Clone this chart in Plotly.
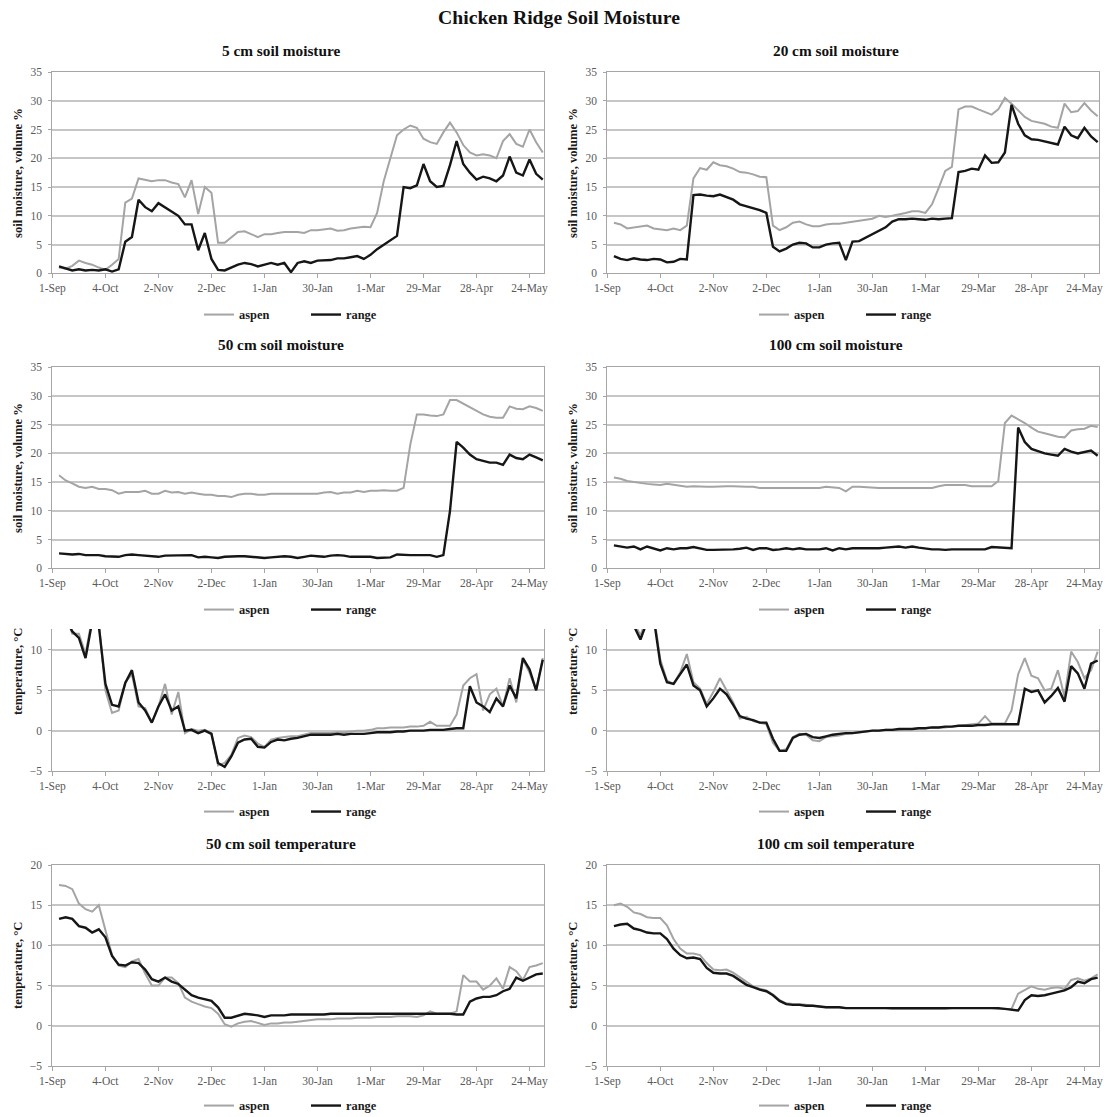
import plotly.graph_objects as go

W, H = 1109, 1117
FONT = "Liberation Serif, Times New Roman, Times, serif"

# ---------------- data ----------------
sample_index = list(range(1, 75))          # category position of each reading
tick_index = [0, 8, 16, 24, 32, 40, 48, 56, 64, 72]
tick_labels = ["1-Sep", "4-Oct", "2-Nov", "2-Dec", "1-Jan", "30-Jan",
               "1-Mar", "29-Mar", "28-Apr", "24-May"]
series_names = ["aspen", "range"]

moist5_aspen = [1.0, 0.8, 1.3, 2.2, 1.8, 1.5, 1.0, 0.6, 1.5, 2.5,
                12.3, 13.0, 16.5, 16.2, 16.0, 16.2, 16.2, 15.8, 15.5, 13.2,
                16.2, 10.3, 15.0, 14.0, 5.3, 5.3, 6.3, 7.2, 7.3, 6.8,
                6.3, 6.8, 6.8, 7.0, 7.2, 7.2, 7.2, 7.0, 7.5, 7.5,
                7.7, 7.8, 7.4, 7.5, 7.8, 8.0, 8.1, 8.0, 10.5, 16.0,
                19.8, 24.0, 25.0, 25.7, 25.3, 23.4, 22.8, 22.5, 24.5, 26.2,
                24.5, 22.3, 21.0, 20.5, 20.7, 20.5, 20.0, 23.0, 24.2, 22.5,
                22.0, 25.0, 22.8, 21.0]
moist5_range = [1.2, 0.8, 0.5, 0.7, 0.5, 0.6, 0.5, 0.7, 0.3, 0.7,
                5.5, 6.3, 12.8, 11.5, 10.8, 12.2, 11.5, 10.8, 10.0, 8.5,
                8.5, 4.0, 7.0, 2.5, 0.6, 0.5, 1.0, 1.5, 1.8, 1.6,
                1.2, 1.5, 1.8, 1.5, 1.8, 0.2, 1.8, 2.1, 1.8, 2.2,
                2.3, 2.3, 2.6, 2.6, 2.8, 3.0, 2.5, 3.2, 4.2, 5.0,
                5.8, 6.5, 15.0, 14.8, 15.3, 19.0, 16.0, 15.0, 15.2, 18.8,
                23.0, 19.0, 17.5, 16.3, 16.8, 16.5, 16.0, 17.0, 20.3, 17.5,
                17.0, 19.8, 17.3, 16.3]

moist20_aspen = [8.8, 8.5, 7.8, 8.0, 8.1, 8.3, 7.8, 7.7, 7.5, 7.8,
                 7.5, 8.3, 16.5, 18.3, 18.0, 19.3, 18.8, 18.6, 18.2, 17.6,
                 17.5, 17.2, 16.8, 16.7, 8.3, 7.5, 8.0, 8.8, 9.0, 8.5,
                 8.2, 8.2, 8.5, 8.6, 8.6, 8.8, 9.0, 9.2, 9.3, 9.5,
                 10.0, 9.8, 10.0, 10.2, 10.5, 10.8, 10.8, 10.5, 12.0, 14.8,
                 17.8, 18.5, 28.5, 29.0, 29.0, 28.5, 28.0, 27.6, 28.5, 30.5,
                 29.5, 28.3, 27.2, 26.5, 26.3, 26.0, 25.5, 25.3, 29.5, 28.0,
                 28.2, 29.6, 28.3, 27.3]
moist20_range = [3.0, 2.5, 2.3, 2.6, 2.4, 2.3, 2.5, 2.4, 1.9, 2.0,
                 2.5, 2.4, 13.6, 13.7, 13.5, 13.4, 13.7, 13.2, 12.8, 12.0,
                 11.7, 11.3, 11.0, 10.5, 4.6, 3.8, 4.3, 5.0, 5.3, 5.2,
                 4.5, 4.5, 5.0, 5.2, 5.3, 2.3, 5.5, 5.6, 6.2, 6.8,
                 7.3, 8.0, 9.0, 9.4, 9.4, 9.5, 9.4, 9.3, 9.5, 9.4,
                 9.5, 9.6, 17.6, 17.8, 18.2, 18.0, 20.5, 19.2, 19.3, 21.0,
                 29.3, 26.0, 24.0, 23.3, 23.2, 22.9, 22.6, 22.4, 25.5, 24.0,
                 23.5, 25.3, 23.8, 22.8]

moist50_aspen = [16.2, 15.3, 14.8, 14.2, 14.0, 14.2, 13.8, 13.8, 13.6, 13.0,
                 13.3, 13.3, 13.3, 13.5, 13.0, 13.0, 13.5, 13.2, 13.3, 13.0,
                 13.2, 13.0, 12.8, 12.8, 12.6, 12.6, 12.4, 12.8, 13.0, 13.0,
                 12.8, 12.8, 13.0, 13.0, 13.0, 13.0, 13.0, 12.9, 13.0, 13.0,
                 13.2, 13.3, 13.0, 13.2, 13.2, 13.5, 13.3, 13.5, 13.5, 13.6,
                 13.5, 13.5, 14.0, 21.5, 26.8, 26.8, 26.6, 26.5, 26.8, 29.3,
                 29.3, 28.7, 28.0, 27.5, 26.8, 26.4, 26.2, 26.2, 28.2, 27.8,
                 27.7, 28.2, 27.9, 27.4]
moist50_range = [2.6, 2.5, 2.4, 2.5, 2.3, 2.3, 2.3, 2.1, 2.0, 2.0,
                 2.3, 2.4, 2.3, 2.2, 2.1, 2.0, 2.2, 2.2, 2.2, 2.3,
                 2.3, 1.9, 2.0, 1.9, 1.8, 2.0, 2.1, 2.1, 2.1, 2.0,
                 1.9, 1.8, 1.9, 2.0, 2.1, 2.0, 1.8, 2.0, 2.2, 2.1,
                 2.0, 2.2, 2.3, 2.2, 2.0, 2.0, 2.0, 2.0, 1.8, 1.8,
                 1.9, 2.4, 2.3, 2.3, 2.3, 2.3, 2.3, 2.0, 2.3, 10.0,
                 22.0, 21.0, 19.8, 19.0, 18.7, 18.4, 18.4, 18.0, 19.8, 19.2,
                 19.0, 19.8, 19.3, 18.8]

moist100_aspen = [15.8, 15.6, 15.2, 15.0, 14.9, 14.7, 14.6, 14.5, 14.7, 14.5,
                  14.3, 14.2, 14.3, 14.2, 14.2, 14.2, 14.3, 14.3, 14.3, 14.2,
                  14.2, 14.2, 14.0, 14.0, 14.0, 14.0, 14.0, 14.0, 14.0, 14.0,
                  14.0, 14.0, 14.2, 14.1, 14.0, 13.4, 14.2, 14.2, 14.1, 14.0,
                  14.0, 14.0, 14.0, 14.0, 14.0, 14.0, 14.0, 14.0, 14.0, 14.3,
                  14.5, 14.5, 14.5, 14.5, 14.3, 14.3, 14.3, 14.3, 15.2, 25.3,
                  26.6, 26.0, 25.3, 24.5, 23.8, 23.5, 23.2, 22.9, 22.8, 24.0,
                  24.2, 24.3, 24.8, 24.6]
moist100_range = [4.0, 3.8, 3.6, 3.8, 3.3, 3.8, 3.5, 3.1, 3.5, 3.3,
                  3.5, 3.5, 3.7, 3.5, 3.2, 3.2, 3.2, 3.2, 3.3, 3.4,
                  3.6, 3.2, 3.5, 3.5, 3.2, 3.3, 3.5, 3.3, 3.5, 3.3,
                  3.3, 3.3, 3.5, 3.1, 3.5, 3.3, 3.5, 3.5, 3.4, 3.5,
                  3.5, 3.6, 3.7, 3.8, 3.6, 3.8, 3.6, 3.4, 3.3, 3.3,
                  3.2, 3.3, 3.3, 3.3, 3.2, 3.3, 3.3, 3.7, 3.6, 3.6,
                  3.5, 24.5, 22.0, 20.8, 20.4, 20.0, 19.8, 19.6, 20.8, 20.3,
                  20.0, 20.2, 20.5, 19.6]

temp5_aspen = [15.5, 14.5, 12.0, 12.0, 9.5, 14.0, 13.5, 5.0, 2.2, 2.5,
               6.0, 7.0, 3.0, 2.8, 1.0, 3.0, 5.8, 2.0, 4.8, -0.3,
               0.2, 0.0, 0.1, -0.3, -4.3, -4.0, -3.0, -0.9, -0.6, -0.8,
               -1.6, -2.0, -1.1, -0.9, -0.8, -0.7, -0.7, -0.5, -0.3, -0.3,
               -0.3, -0.3, -0.2, -0.2, -0.1, 0.0, 0.0, 0.1, 0.3, 0.3,
               0.4, 0.4, 0.4, 0.5, 0.5, 0.6, 1.1, 0.6, 0.6, 0.6,
               2.0, 5.6, 6.5, 7.0, 2.5, 4.5, 5.2, 3.0, 6.5, 3.5,
               8.8, 7.2, 5.0, 9.0]
temp5_range = [15.0, 14.0, 12.3, 11.5, 9.0, 13.5, 13.0, 5.8, 3.2, 3.0,
               5.9, 7.5, 3.5, 2.5, 1.0, 3.0, 4.5, 2.5, 3.0, 0.0,
               0.1, -0.3, 0.0, -0.4, -4.0, -4.5, -3.2, -1.5, -1.1, -1.0,
               -2.0, -2.1, -1.4, -1.1, -1.2, -1.0, -0.9, -0.7, -0.5, -0.5,
               -0.5, -0.5, -0.4, -0.5, -0.4, -0.4, -0.4, -0.3, -0.2, -0.2,
               -0.2, -0.1, -0.1, 0.0, 0.0, 0.0, 0.1, 0.1, 0.1, 0.2,
               0.3, 0.3, 5.5, 3.5, 3.0, 2.3, 4.0, 3.0, 5.6, 4.0,
               9.0, 7.6, 5.0, 8.8]

temp20_aspen = [16.5, 16.0, 15.0, 13.5, 11.8, 14.0, 14.5, 8.8, 6.2, 5.8,
                7.2, 9.5, 6.0, 5.2, 3.3, 4.8, 6.5, 5.0, 3.5, 1.5,
                1.7, 1.2, 1.0, 0.8, -1.5, -2.5, -2.3, -0.8, -0.4, -0.5,
                -1.2, -1.3, -0.8, -0.7, -0.6, -0.4, -0.3, -0.2, -0.1, 0.0,
                0.0, 0.1, 0.1, 0.1, 0.2, 0.2, 0.3, 0.3, 0.4, 0.4,
                0.4, 0.5, 0.6, 0.7, 0.8, 0.9, 1.8, 0.9, 0.9, 0.9,
                2.5, 7.0, 9.0, 6.8, 6.5, 5.0, 5.2, 7.5, 4.2, 9.8,
                8.5, 6.5, 7.5, 9.8]
temp20_range = [16.0, 15.5, 14.5, 13.0, 11.3, 13.5, 14.0, 8.3, 6.0, 5.8,
                7.0, 8.2, 5.6, 5.0, 3.0, 4.0, 5.2, 4.5, 3.2, 1.8,
                1.5, 1.3, 1.0, 1.0, -1.0, -2.5, -2.5, -0.9, -0.5, -0.4,
                -0.8, -0.9, -0.7, -0.5, -0.4, -0.3, -0.3, -0.2, -0.1, 0.0,
                0.0, 0.1, 0.1, 0.2, 0.2, 0.2, 0.3, 0.3, 0.4, 0.4,
                0.5, 0.5, 0.6, 0.6, 0.6, 0.7, 0.7, 0.8, 0.8, 0.8,
                0.8, 0.8, 5.2, 4.8, 5.0, 3.5, 4.3, 5.3, 3.6, 8.0,
                7.1, 5.2, 8.3, 8.7]

temp50_aspen = [17.5, 17.4, 17.0, 15.2, 14.5, 14.2, 15.0, 12.0, 8.8, 7.5,
                7.3, 8.0, 8.3, 6.5, 5.0, 5.0, 6.0, 6.0, 5.3, 3.5,
                3.0, 2.7, 2.4, 2.2, 1.5, 0.2, -0.1, 0.3, 0.5, 0.6,
                0.3, 0.1, 0.3, 0.3, 0.4, 0.4, 0.5, 0.6, 0.7, 0.8,
                0.8, 0.8, 0.9, 0.9, 0.9, 1.0, 1.0, 1.0, 1.1, 1.1,
                1.1, 1.2, 1.2, 1.2, 1.1, 1.3, 1.8, 1.5, 1.5, 1.5,
                1.8, 6.3, 5.5, 5.5, 4.5, 5.0, 5.9, 4.6, 7.3, 6.8,
                5.7, 7.3, 7.5, 7.8]
temp50_range = [13.3, 13.5, 13.3, 12.4, 12.2, 11.6, 12.0, 11.0, 8.7, 7.6,
                7.5, 7.9, 7.8, 7.0, 5.8, 5.5, 6.0, 5.5, 5.2, 4.5,
                3.8, 3.5, 3.3, 3.1, 2.3, 1.0, 1.0, 1.3, 1.5, 1.4,
                1.3, 1.1, 1.3, 1.3, 1.3, 1.4, 1.4, 1.4, 1.4, 1.4,
                1.4, 1.5, 1.5, 1.5, 1.5, 1.5, 1.5, 1.5, 1.5, 1.5,
                1.5, 1.5, 1.5, 1.5, 1.5, 1.5, 1.5, 1.5, 1.5, 1.5,
                1.4, 1.4, 3.0, 3.4, 3.6, 3.6, 3.8, 4.3, 4.6, 6.0,
                5.6, 6.0, 6.4, 6.5]

temp100_aspen = [15.0, 15.2, 14.8, 14.1, 13.9, 13.5, 13.4, 13.4, 12.5, 10.8,
                 9.6, 9.0, 9.0, 8.8, 7.8, 7.0, 6.9, 7.0, 6.6, 6.0,
                 5.4, 4.9, 4.6, 4.4, 3.9, 3.2, 2.8, 2.7, 2.7, 2.6,
                 2.5, 2.4, 2.3, 2.3, 2.3, 2.2, 2.2, 2.2, 2.2, 2.2,
                 2.2, 2.2, 2.1, 2.1, 2.1, 2.1, 2.1, 2.1, 2.1, 2.1,
                 2.1, 2.2, 2.2, 2.2, 2.2, 2.2, 2.2, 2.2, 2.1, 2.1,
                 2.1, 4.0, 4.5, 4.9, 4.6, 4.5, 4.7, 4.8, 4.6, 5.7,
                 5.9, 5.6, 5.9, 6.4]
temp100_range = [12.4, 12.6, 12.7, 12.1, 11.9, 11.6, 11.5, 11.5, 10.8, 9.6,
                 8.8, 8.4, 8.5, 8.3, 7.2, 6.6, 6.5, 6.5, 6.2, 5.6,
                 5.1, 4.8, 4.5, 4.3, 3.8, 3.1, 2.7, 2.6, 2.6, 2.5,
                 2.5, 2.4, 2.3, 2.3, 2.3, 2.2, 2.2, 2.2, 2.2, 2.2,
                 2.2, 2.2, 2.2, 2.2, 2.2, 2.2, 2.2, 2.2, 2.2, 2.2,
                 2.2, 2.2, 2.2, 2.2, 2.2, 2.2, 2.2, 2.2, 2.2, 2.1,
                 2.0, 1.9, 3.2, 3.8, 3.7, 3.8, 4.0, 4.2, 4.4, 4.8,
                 5.5, 5.3, 5.8, 6.0]

moist_label = "soil moisture, volume %"
temp_label = "temperature, °C"

panels = [
    dict(title="5 cm soil moisture", a=moist5_aspen, r=moist5_range, ylab=moist_label, yr=[0, 35], col=0, row=0),
    dict(title="20 cm soil moisture", a=moist20_aspen, r=moist20_range, ylab=moist_label, yr=[0, 35], col=1, row=0),
    dict(title="50 cm soil moisture", a=moist50_aspen, r=moist50_range, ylab=moist_label, yr=[0, 35], col=0, row=1),
    dict(title="100 cm soil moisture", a=moist100_aspen, r=moist100_range, ylab=moist_label, yr=[0, 35], col=1, row=1),
    dict(title=None, a=temp5_aspen, r=temp5_range, ylab=temp_label, yr=[-5, 12.6], col=0, row=2),
    dict(title=None, a=temp20_aspen, r=temp20_range, ylab=temp_label, yr=[-5, 12.6], col=1, row=2),
    dict(title="50 cm soil temperature", a=temp50_aspen, r=temp50_range, ylab=temp_label, yr=[-5, 20], col=0, row=3),
    dict(title="100 cm soil temperature", a=temp100_aspen, r=temp100_range, ylab=temp_label, yr=[-5, 20], col=1, row=3),
]

# ---------------- layout geometry (pixels) ----------------
col_px = [(52.4, 544.1), (607.3, 1099.0)]
row_px = [(72.0, 273.3), (367.3, 568.3), (629.0, 771.0), (865.0, 1066.0)]
title_y = [50, 345, None, 843]
title_x = [281, 836]
legend_y = [315, 610, 812, 1106]
legend_x = [199, 754]
ylab_x = [18, 573]
ylab_y = [173, 468, 672, 966]

def px(x):
    return x / W

def py(y):
    return 1 - y / H

AXIS_GREY = "#a6a6a6"
GRID_GREY = "#c6c6c6"
TICK_FONT = dict(family=FONT, size=11.5, color="#5a5a5a")
colors = {"aspen": "#a4a4a4", "range": "#161616"}
widths = {"aspen": 2.0, "range": 2.4}

fig = go.Figure()
annotations = [dict(text="Chicken Ridge Soil Moisture", x=px(559), y=py(17), xref="paper", yref="paper",
                    showarrow=False, xanchor="center", yanchor="middle",
                    font=dict(family=FONT, size=19.7, color="#111", weight="bold"))]
layout = {}

for k, p in enumerate(panels, start=1):
    sfx = "" if k == 1 else str(k)
    lg = "legend" if k == 1 else f"legend{k}"
    for name, ys in zip(series_names, [p["a"], p["r"]]):
        fig.add_trace(go.Scatter(
            x=sample_index[:len(ys)], y=ys, mode="lines", name=name,
            line=dict(color=colors[name], width=widths[name]),
            xaxis="x" + sfx, yaxis="y" + sfx, legend=lg, hoverinfo="skip"))
    c, r = p["col"], p["row"]
    x0, x1 = col_px[c]
    y0, y1 = row_px[r]
    layout["xaxis" + sfx] = dict(
        domain=[px(x0), px(x1)], anchor="y" + sfx, range=[0, 74.2],
        tickmode="array", tickvals=tick_index, ticktext=tick_labels,
        ticks="outside", ticklen=4, tickcolor=AXIS_GREY, tickwidth=1,
        showline=True, linecolor=AXIS_GREY, linewidth=1, mirror=(r != 2),
        showgrid=False, zeroline=False, tickfont=TICK_FONT, fixedrange=True,
        automargin=False)
    layout["yaxis" + sfx] = dict(
        domain=[py(y1), py(y0)], anchor="x" + sfx, range=p["yr"],
        tickmode="linear", tick0=0, dtick=5,
        ticks="outside", ticklen=3, tickcolor=AXIS_GREY, ticklabelstandoff=4,
        showline=True, linecolor=AXIS_GREY, linewidth=1, mirror=True,
        showgrid=True, gridcolor=GRID_GREY, gridwidth=1.5,
        zeroline=False, tickfont=TICK_FONT, fixedrange=True,
        automargin=False)
    layout[lg] = dict(
        orientation="h", x=px(legend_x[c]), y=py(legend_y[r]),
        xanchor="left", yanchor="middle", bgcolor="rgba(0,0,0,0)",
        entrywidth=62, entrywidthmode="pixels", itemwidth=30,
        font=dict(family=FONT, size=12.4, color="#1a1a1a", weight="bold"))
    if p["title"]:
        annotations.append(dict(text=p["title"], x=px(title_x[c]), y=py(title_y[r]),
                                xref="paper", yref="paper", showarrow=False,
                                xanchor="center", yanchor="middle",
                                font=dict(family=FONT, size=15.3, color="#111", weight="bold")))
    annotations.append(dict(text=p["ylab"], x=px(ylab_x[c]), y=py(ylab_y[r]),
                            xref="paper", yref="paper", showarrow=False, textangle=-90,
                            xanchor="center", yanchor="middle",
                            font=dict(family=FONT, size=12.6, color="#1a1a1a", weight="bold")))

fig.update_layout(**layout)
fig.update_layout(
    width=W, height=H, autosize=False,
    margin=dict(l=0, r=0, t=0, b=0, autoexpand=False),
    paper_bgcolor="white", plot_bgcolor="white",
    showlegend=True, annotations=annotations)

fig.write_html("out.html", config={"displayModeBar": False},
               post_script="document.body.style.margin='0';document.body.style.overflow='hidden';")
